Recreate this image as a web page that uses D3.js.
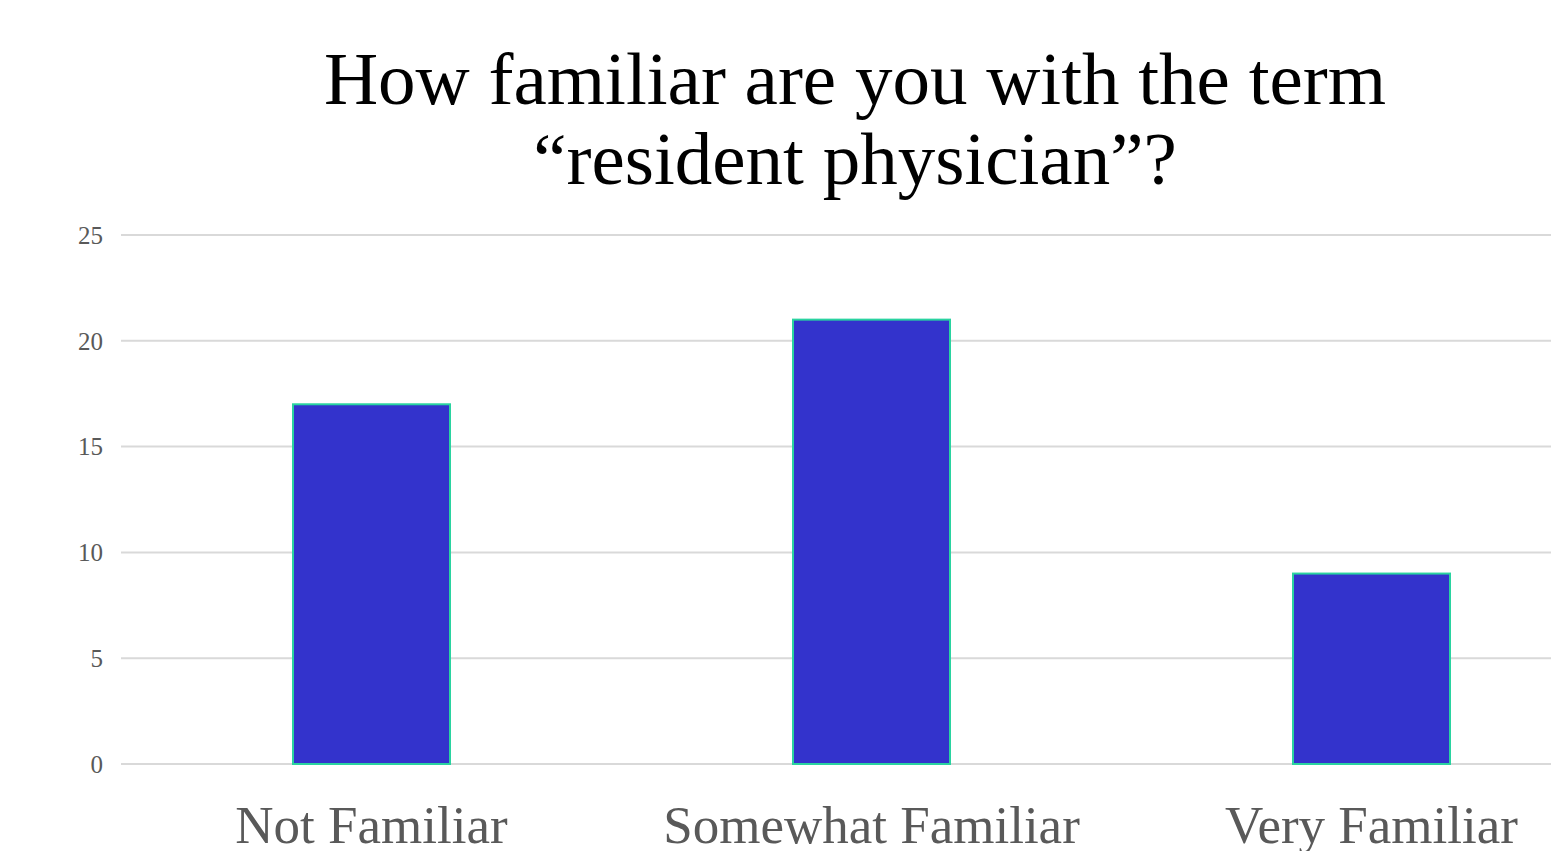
<!DOCTYPE html>
<html>
<head>
<meta charset="utf-8">
<script src="https://cdn.jsdelivr.net/npm/d3@7"></script>
<style>
html,body{margin:0;padding:0;background:#fff;overflow:hidden;}
svg{display:block;}
</style>
</head>
<body>
<svg id="chart" width="1551" height="851"></svg>
<script>
const titleLines = ["How familiar are you with the term", "\u201Cresident physician\u201D?"];
const categories = ["Not Familiar", "Somewhat Familiar", "Very Familiar"];
const values = [17, 21, 9];
const yTicks = [0, 5, 10, 15, 20, 25];

const W = 1551, H = 851;
const svg = d3.select("#chart");
const font = "'Liberation Serif', 'Times New Roman', serif";

const x = d3.scaleBand().domain(categories).range([121.5, 1621.5]).padding(0);
const y = d3.scaleLinear().domain([0, 25]).range([764, 235]);
const barW = x.bandwidth() * 0.314;

// gridlines
svg.append("g").selectAll("line").data(yTicks).join("line")
  .attr("x1", 121).attr("x2", W)
  .attr("y1", d => y(d)).attr("y2", d => y(d))
  .attr("stroke", "#d9d9d9").attr("stroke-width", 2);

// y tick labels
svg.append("g").selectAll("text").data(yTicks).join("text")
  .attr("x", 103).attr("y", d => y(d))
  .attr("dy", "0.35em")
  .attr("text-anchor", "end")
  .attr("font-family", font).attr("font-size", 25)
  .attr("fill", "#595959")
  .text(d => d);

// bars
svg.append("g").selectAll("rect").data(values).join("rect")
  .attr("x", (d, i) => x(categories[i]) + x.bandwidth() / 2 - barW / 2)
  .attr("y", d => y(d))
  .attr("width", barW)
  .attr("height", d => y(0) - y(d))
  .attr("fill", "#3333cc")
  .attr("stroke", "#2ad3a0")
  .attr("stroke-width", 2);

// category labels
svg.append("g").selectAll("text").data(categories).join("text")
  .attr("x", d => x(d) + x.bandwidth() / 2)
  .attr("y", 843)
  .attr("text-anchor", "middle")
  .attr("font-family", font).attr("font-size", 53)
  .attr("fill", "#595959")
  .text(d => d);

// title
svg.append("g").selectAll("text").data(titleLines).join("text")
  .attr("x", 855)
  .attr("y", (d, i) => 104 + i * 80)
  .attr("text-anchor", "middle")
  .attr("font-family", font).attr("font-size", 75)
  .attr("fill", "#000")
  .text(d => d);
</script>
</body>
</html>
